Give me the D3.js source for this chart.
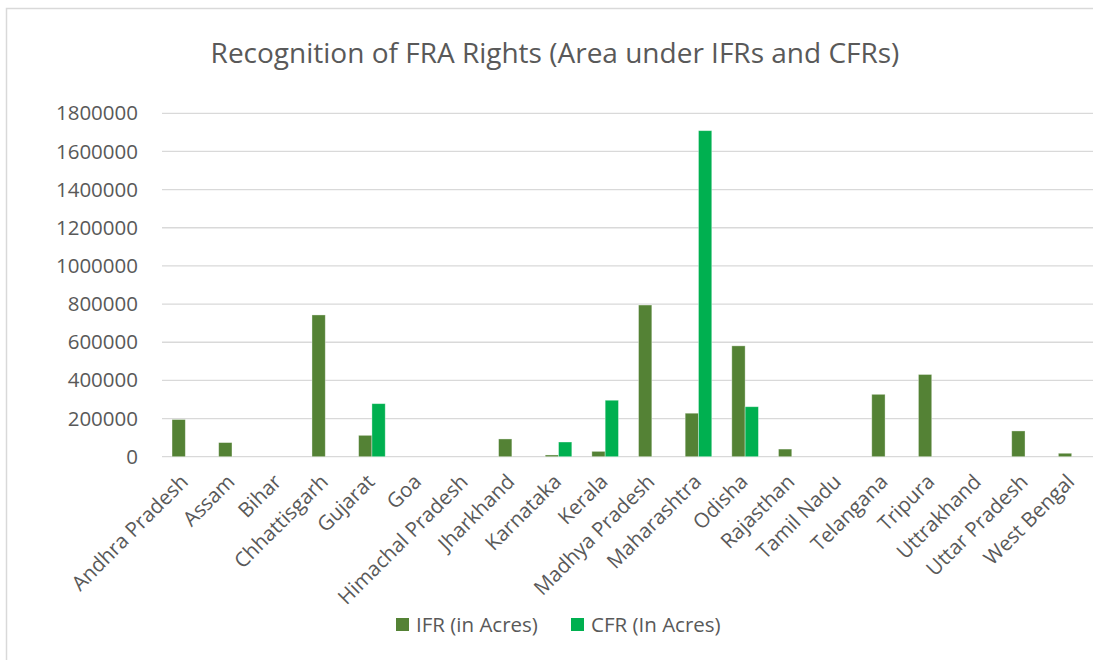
<!DOCTYPE html>
<html lang="en">
<head>
  <meta charset="UTF-8">
  <script src="https://d3js.org/d3.v7.min.js"></script>
  <style>
    body { margin: 0; background: #fff; overflow: hidden; }
    text { font-family: "Open Sans", Arial, sans-serif; fill: #595959; }
  </style>
</head>
<body>
  <script>
    const states = ["Andhra Pradesh", "Assam", "Bihar", "Chhattisgarh", "Gujarat", "Goa",
      "Himachal Pradesh", "Jharkhand", "Karnataka", "Kerala", "Madhya Pradesh", "Maharashtra",
      "Odisha", "Rajasthan", "Tamil Nadu", "Telangana", "Tripura", "Uttrakhand", "Uttar Pradesh", "West Bengal"];
    const ifr = [195000, 74000, 0, 743000, 112000, 0, 0, 93000, 9000, 28000, 795000, 228000,
      581000, 40000, 0, 327000, 431000, 0, 135000, 18000];
    const cfr = [0, 0, 0, 0, 278000, 0, 0, 0, 77000, 296000, 0, 1709000,
      262000, 0, 0, 0, 0, 0, 0, 0];
    const seriesNames = ["IFR (in Acres)", "CFR (In Acres)"];
    const colors = ["#548235", "#00b050"];
    const yTicks = [0, 200000, 400000, 600000, 800000, 1000000, 1200000, 1400000, 1600000, 1800000];

    const width = 1093, height = 660;
    const svg = d3.select("body").append("svg").attr("width", width).attr("height", height);

    // chart border (runs off the right/bottom edge like the screenshot)
    svg.append("rect")
      .attr("x", 6.5).attr("y", 8.5).attr("width", 1200).attr("height", 800)
      .attr("fill", "none").attr("stroke", "#d9d9d9").attr("stroke-width", 1.5);

    svg.append("text")
      .attr("x", 555).attr("y", 63)
      .attr("text-anchor", "middle")
      .style("font-size", "28px")
      .text("Recognition of FRA Rights (Area under IFRs and CFRs)");

    const x0 = d3.scaleBand().domain(states).range([162, 1095]).padding(0);
    const x1 = d3.scaleBand().domain([0, 1]).range([0, x0.bandwidth()]).paddingInner(0).paddingOuter(0.754);
    const y = d3.scaleLinear().domain([0, 1800000]).range([456.7, 113.3]);

    // gridlines
    svg.append("g")
      .selectAll("line")
      .data(yTicks)
      .join("line")
      .attr("x1", 162).attr("x2", 1095)
      .attr("y1", d => y(d)).attr("y2", d => y(d))
      .attr("stroke", "#d9d9d9").attr("stroke-width", 1.3);

    // y axis labels
    const yAxis = svg.append("g")
      .attr("transform", "translate(146,0)")
      .call(d3.axisLeft(y).tickValues(yTicks).tickSize(0).tickPadding(8).tickFormat(d3.format("d")));
    yAxis.select(".domain").remove();
    yAxis.selectAll("text").style("font-size", "20.5px").attr("fill", "#595959");

    // bars
    const rows = states.map((s, i) => ({ state: s, vals: [ifr[i], cfr[i]] }));
    svg.append("g")
      .selectAll("g")
      .data(rows)
      .join("g")
      .attr("transform", d => `translate(${x0(d.state)},0)`)
      .selectAll("rect")
      .data(d => d.vals.map((v, k) => ({ k, v })).filter(e => e.v > 0))
      .join("rect")
      .attr("x", d => x1(d.k))
      .attr("width", x1.bandwidth())
      .attr("y", d => y(d.v))
      .attr("height", d => y(0) - y(d.v))
      .attr("fill", d => colors[d.k])
      .attr("stroke", "#ffffff").attr("stroke-opacity", 0.45).attr("stroke-width", 0.8);

    // x axis labels
    svg.append("g")
      .selectAll("text")
      .data(states)
      .join("text")
      .attr("text-anchor", "end")
      .attr("transform", d => `translate(${x0(d) + x0.bandwidth() / 2 + 4},${483}) rotate(-45)`)
      .style("font-size", "20.5px")
      .text(d => d);

    // legend
    const legend = svg.append("g").attr("transform", "translate(396,618)");
    const legX = [0, 175];
    seriesNames.forEach((name, i) => {
      const g = legend.append("g").attr("transform", `translate(${legX[i]},0)`);
      g.append("rect").attr("width", 13).attr("height", 13).attr("fill", colors[i]);
      g.append("text").attr("x", 20).attr("y", 14).style("font-size", "20.5px").text(name);
    });
  </script>
</body>
</html>
